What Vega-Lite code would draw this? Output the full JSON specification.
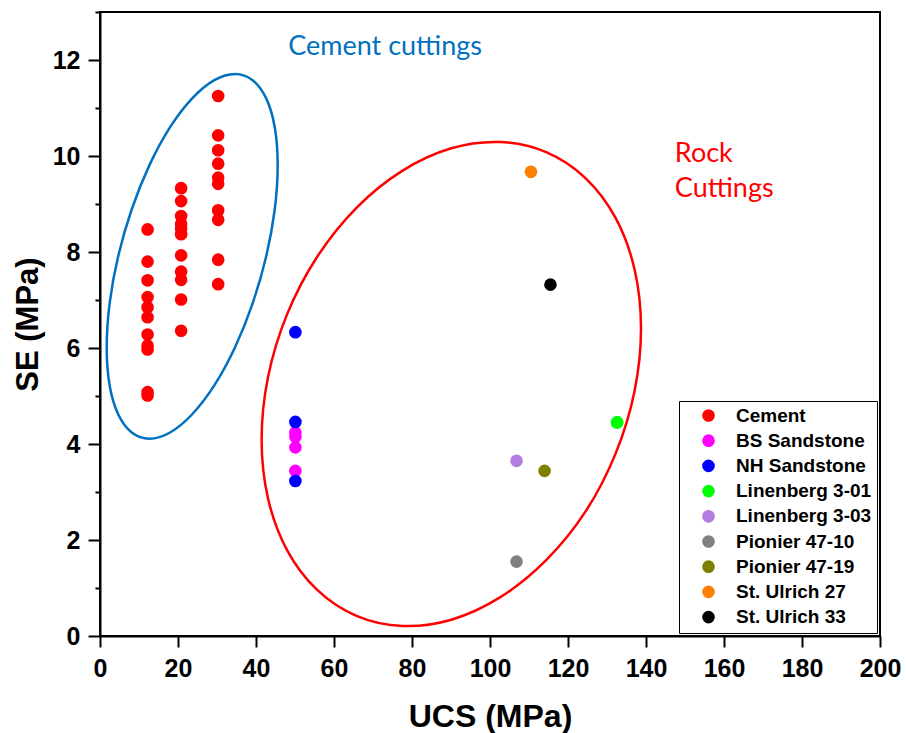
{
  "$schema": "https://vega.github.io/schema/vega-lite/v6.json",
  "width": 780,
  "height": 624,
  "autosize": {"type": "none"},
  "padding": {"left": 100, "top": 12, "right": 26, "bottom": 97},
  "background": "white",
  "config": {"view": {"stroke": "black", "strokeWidth": 2}, "font": "Liberation Sans"},
  "datasets": {
    "points": [
      {"Sample": "Cement", "UCS": 12.2, "SE": 8.47},
      {"Sample": "Cement", "UCS": 12.2, "SE": 7.80},
      {"Sample": "Cement", "UCS": 12.2, "SE": 7.41},
      {"Sample": "Cement", "UCS": 12.2, "SE": 7.06},
      {"Sample": "Cement", "UCS": 12.2, "SE": 6.85},
      {"Sample": "Cement", "UCS": 12.2, "SE": 6.64},
      {"Sample": "Cement", "UCS": 12.2, "SE": 6.28},
      {"Sample": "Cement", "UCS": 12.2, "SE": 6.05},
      {"Sample": "Cement", "UCS": 12.2, "SE": 5.97},
      {"Sample": "Cement", "UCS": 12.2, "SE": 5.08},
      {"Sample": "Cement", "UCS": 12.2, "SE": 5.01},
      {"Sample": "Cement", "UCS": 20.8, "SE": 9.33},
      {"Sample": "Cement", "UCS": 20.8, "SE": 9.06},
      {"Sample": "Cement", "UCS": 20.8, "SE": 8.75},
      {"Sample": "Cement", "UCS": 20.8, "SE": 8.59},
      {"Sample": "Cement", "UCS": 20.8, "SE": 8.49},
      {"Sample": "Cement", "UCS": 20.8, "SE": 8.37},
      {"Sample": "Cement", "UCS": 20.8, "SE": 7.93},
      {"Sample": "Cement", "UCS": 20.8, "SE": 7.59},
      {"Sample": "Cement", "UCS": 20.8, "SE": 7.42},
      {"Sample": "Cement", "UCS": 20.8, "SE": 7.01},
      {"Sample": "Cement", "UCS": 20.8, "SE": 6.36},
      {"Sample": "Cement", "UCS": 30.3, "SE": 11.25},
      {"Sample": "Cement", "UCS": 30.3, "SE": 10.43},
      {"Sample": "Cement", "UCS": 30.3, "SE": 10.12},
      {"Sample": "Cement", "UCS": 30.3, "SE": 9.84},
      {"Sample": "Cement", "UCS": 30.3, "SE": 9.55},
      {"Sample": "Cement", "UCS": 30.3, "SE": 9.42},
      {"Sample": "Cement", "UCS": 30.3, "SE": 8.87},
      {"Sample": "Cement", "UCS": 30.3, "SE": 8.67},
      {"Sample": "Cement", "UCS": 30.3, "SE": 7.84},
      {"Sample": "Cement", "UCS": 30.3, "SE": 7.33},
      {"Sample": "BS Sandstone", "UCS": 50.1, "SE": 4.24},
      {"Sample": "BS Sandstone", "UCS": 50.1, "SE": 4.15},
      {"Sample": "BS Sandstone", "UCS": 50.1, "SE": 3.93},
      {"Sample": "BS Sandstone", "UCS": 50.1, "SE": 3.44},
      {"Sample": "NH Sandstone", "UCS": 50.1, "SE": 6.33},
      {"Sample": "NH Sandstone", "UCS": 50.1, "SE": 4.46},
      {"Sample": "NH Sandstone", "UCS": 50.1, "SE": 3.23},
      {"Sample": "Linenberg 3-01", "UCS": 132.6, "SE": 4.45},
      {"Sample": "Linenberg 3-03", "UCS": 106.8, "SE": 3.65},
      {"Sample": "Pionier 47-10", "UCS": 106.8, "SE": 1.55},
      {"Sample": "Pionier 47-19", "UCS": 114.0, "SE": 3.44},
      {"Sample": "St. Ulrich 27", "UCS": 110.5, "SE": 9.67},
      {"Sample": "St. Ulrich 33", "UCS": 115.5, "SE": 7.32}
    ],
    "blueEllipse": [
      {"i": 0, "UCS": 45.56, "SE": 9.81},
      {"i": 1, "UCS": 44.81, "SE": 10.60},
      {"i": 2, "UCS": 42.62, "SE": 11.20},
      {"i": 3, "UCS": 39.14, "SE": 11.58},
      {"i": 4, "UCS": 34.60, "SE": 11.71},
      {"i": 5, "UCS": 29.31, "SE": 11.58},
      {"i": 6, "UCS": 23.64, "SE": 11.20},
      {"i": 7, "UCS": 17.97, "SE": 10.60},
      {"i": 8, "UCS": 12.68, "SE": 9.81},
      {"i": 9, "UCS": 8.14, "SE": 8.89},
      {"i": 10, "UCS": 4.66, "SE": 7.91},
      {"i": 11, "UCS": 2.47, "SE": 6.93},
      {"i": 12, "UCS": 1.72, "SE": 6.01},
      {"i": 13, "UCS": 2.47, "SE": 5.22},
      {"i": 14, "UCS": 4.66, "SE": 4.62},
      {"i": 15, "UCS": 8.14, "SE": 4.24},
      {"i": 16, "UCS": 12.68, "SE": 4.11},
      {"i": 17, "UCS": 17.97, "SE": 4.24},
      {"i": 18, "UCS": 23.64, "SE": 4.62},
      {"i": 19, "UCS": 29.31, "SE": 5.22},
      {"i": 20, "UCS": 34.60, "SE": 6.01},
      {"i": 21, "UCS": 39.14, "SE": 6.93},
      {"i": 22, "UCS": 42.62, "SE": 7.91},
      {"i": 23, "UCS": 44.81, "SE": 8.89}
    ],
    "redEllipse": [
      {"i": 0, "UCS": 138.72, "SE": 6.41},
      {"i": 1, "UCS": 137.06, "SE": 7.64},
      {"i": 2, "UCS": 132.20, "SE": 8.71},
      {"i": 3, "UCS": 124.47, "SE": 9.54},
      {"i": 4, "UCS": 114.40, "SE": 10.08},
      {"i": 5, "UCS": 102.67, "SE": 10.29},
      {"i": 6, "UCS": 90.08, "SE": 10.16},
      {"i": 7, "UCS": 77.49, "SE": 9.69},
      {"i": 8, "UCS": 65.76, "SE": 8.92},
      {"i": 9, "UCS": 55.69, "SE": 7.90},
      {"i": 10, "UCS": 47.96, "SE": 6.70},
      {"i": 11, "UCS": 43.10, "SE": 5.40},
      {"i": 12, "UCS": 41.44, "SE": 4.09},
      {"i": 13, "UCS": 43.10, "SE": 2.86},
      {"i": 14, "UCS": 47.96, "SE": 1.79},
      {"i": 15, "UCS": 55.69, "SE": 0.96},
      {"i": 16, "UCS": 65.76, "SE": 0.42},
      {"i": 17, "UCS": 77.49, "SE": 0.21},
      {"i": 18, "UCS": 90.08, "SE": 0.34},
      {"i": 19, "UCS": 102.67, "SE": 0.81},
      {"i": 20, "UCS": 114.40, "SE": 1.58},
      {"i": 21, "UCS": 124.47, "SE": 2.59},
      {"i": 22, "UCS": 132.20, "SE": 3.80},
      {"i": 23, "UCS": 137.06, "SE": 5.10}
    ],
    "one": [{}]
  },
  "layer": [
    {
      "data": {"name": "points"},
      "mark": {"type": "circle", "size": 160, "opacity": 1},
      "encoding": {
        "x": {
          "field": "UCS", "type": "quantitative",
          "scale": {"domain": [0, 200], "nice": false, "zero": false},
          "axis": {
            "title": "UCS (MPa)",
            "values": [0, 10, 20, 30, 40, 50, 60, 70, 80, 90, 100, 110, 120, 130, 140, 150, 160, 170, 180, 190, 200],
            "labelExpr": "datum.value % 20 === 0 ? datum.label : ''",
            "tickSize": {"condition": {"test": "datum.value % 20 === 0", "value": 11}, "value": 5},
            "grid": false,
            "domainColor": "black", "domainWidth": 2,
            "tickColor": "black", "tickWidth": 2,
            "labelFont": "Liberation Sans", "labelFontSize": 25, "labelFontWeight": "bold", "labelColor": "black",
            "labelPadding": 9, "labelOverlap": false, "labelFlush": false,
            "titleFont": "Liberation Sans", "titleFontSize": 32, "titleFontWeight": "bold", "titleColor": "black",
            "titlePadding": 20
          }
        },
        "y": {
          "field": "SE", "type": "quantitative",
          "scale": {"domain": [0, 13], "nice": false, "zero": false},
          "axis": {
            "title": "SE (MPa)",
            "values": [0, 1, 2, 3, 4, 5, 6, 7, 8, 9, 10, 11, 12, 13],
            "labelExpr": "datum.value % 2 === 0 && datum.value < 13 ? datum.label : ''",
            "tickSize": {"condition": {"test": "datum.value % 2 === 0", "value": 12}, "value": 5},
            "grid": false,
            "domainColor": "black", "domainWidth": 2,
            "tickColor": "black", "tickWidth": 2,
            "labelFont": "Liberation Sans", "labelFontSize": 25, "labelFontWeight": "bold", "labelColor": "black",
            "labelPadding": 8, "labelOverlap": false, "labelFlush": false,
            "titleFont": "Liberation Sans", "titleFontSize": 31, "titleFontWeight": "bold", "titleColor": "black",
            "titlePadding": 8
          }
        },
        "color": {
          "field": "Sample", "type": "nominal",
          "scale": {
            "domain": ["Cement", "BS Sandstone", "NH Sandstone", "Linenberg 3-01", "Linenberg 3-03", "Pionier 47-10", "Pionier 47-19", "St. Ulrich 27", "St. Ulrich 33"],
            "range": ["#FF0000", "#FF00FF", "#0000FF", "#00FF00", "#B07EE0", "#808080", "#808000", "#FF8000", "#000000"]
          },
          "legend": {
            "title": null,
            "orient": "none",
            "legendX": 579,
            "legendY": 389,
            "strokeColor": "black",
            "fillColor": "white",
            "padding": 5,
            "symbolType": "circle",
            "symbolSize": 160,
            "symbolOffset": 15,
            "symbolStrokeWidth": 0,
            "labelOffset": 18,
            "labelFont": "Liberation Sans",
            "labelFontSize": 19,
            "labelFontWeight": "bold",
            "labelColor": "black",
            "labelLimit": 300,
            "rowPadding": 5.2
          }
        }
      }
    },
    {
      "data": {"name": "blueEllipse"},
      "mark": {"type": "line", "interpolate": "cardinal-closed", "stroke": "#0070C0", "strokeWidth": 2.5, "clip": false},
      "encoding": {
        "x": {"field": "UCS", "type": "quantitative", "title": "UCS (MPa)"},
        "y": {"field": "SE", "type": "quantitative", "title": "SE (MPa)"},
        "order": {"field": "i", "type": "quantitative"}
      }
    },
    {
      "data": {"name": "redEllipse"},
      "mark": {"type": "line", "interpolate": "cardinal-closed", "stroke": "#FF0000", "strokeWidth": 2.5, "clip": false},
      "encoding": {
        "x": {"field": "UCS", "type": "quantitative", "title": "UCS (MPa)"},
        "y": {"field": "SE", "type": "quantitative", "title": "SE (MPa)"},
        "order": {"field": "i", "type": "quantitative"}
      }
    },
    {
      "data": {"name": "points"},
      "transform": [{"filter": "datum.Sample === 'Linenberg 3-01'"}],
      "mark": {"type": "circle", "size": 160, "opacity": 1, "color": "#00FF00"},
      "encoding": {
        "x": {"field": "UCS", "type": "quantitative", "title": "UCS (MPa)"},
        "y": {"field": "SE", "type": "quantitative", "title": "SE (MPa)"}
      }
    },
    {
      "data": {"name": "one"},
      "mark": {"type": "text", "text": "Cement cuttings", "font": "Lato", "fontSize": 27, "color": "#0070C0", "align": "center", "baseline": "middle"},
      "encoding": {
        "x": {"datum": 73.1, "type": "quantitative"},
        "y": {"datum": 12.27, "type": "quantitative"}
      }
    },
    {
      "data": {"name": "one"},
      "mark": {"type": "text", "text": ["Rock", "Cuttings"], "font": "Lato", "fontSize": 27, "lineHeight": 35, "color": "#FF0000", "align": "left", "baseline": "middle"},
      "encoding": {
        "x": {"datum": 147.4, "type": "quantitative"},
        "y": {"datum": 10.05, "type": "quantitative"}
      }
    }
  ]
}
